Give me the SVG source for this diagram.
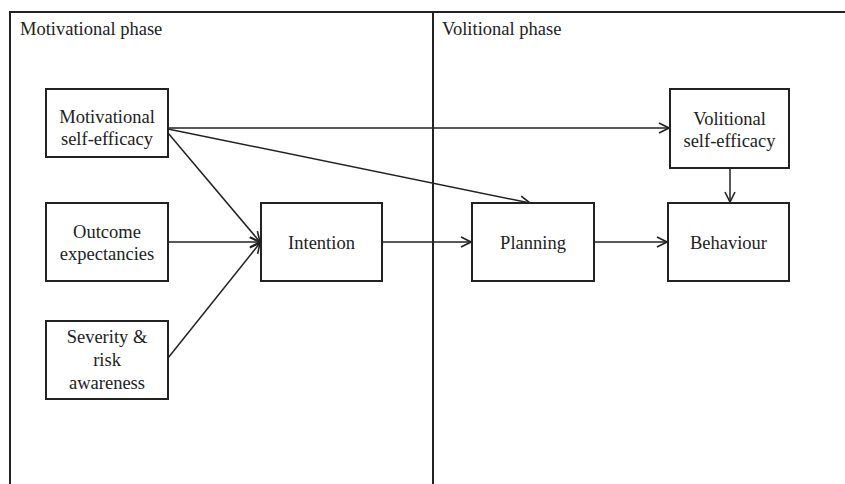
<svg xmlns="http://www.w3.org/2000/svg" width="845" height="484" viewBox="0 0 845 484">
<style>
.box{fill:#fff;stroke:#222;stroke-width:2}
.frame{fill:none;stroke:#222;stroke-width:2}
text{font-family:"Liberation Serif","Times New Roman","DejaVu Serif",serif;font-size:18.5px;fill:#222}
.c{text-anchor:middle}
.con line{stroke:#222;stroke-width:1.5;marker-end:url(#ah)}
</style>
<defs>
<marker id="ah" viewBox="0 0 12 12" refX="11" refY="6" markerWidth="12" markerHeight="12" markerUnits="userSpaceOnUse" orient="auto">
<path d="M1,1 L11,6 L1,11" fill="none" stroke="#222" stroke-width="1.6"/>
</marker>
</defs>
<g id="frame">
<path class="frame" d="M10,484 V12 H845"/>
<line x1="433" y1="12" x2="433" y2="484" stroke="#222" stroke-width="2"/>
<text x="20" y="35">Motivational phase</text>
<text x="442" y="35">Volitional phase</text>
</g>
<g class="con" id="connectors">
<line x1="168" y1="128" x2="669" y2="128"/>
<line x1="168" y1="129" x2="530" y2="203"/>
<line x1="168" y1="133" x2="260" y2="242"/>
<line x1="168" y1="242" x2="260" y2="242"/>
<line x1="168" y1="358" x2="260" y2="243"/>
<line x1="382" y1="242" x2="471" y2="242"/>
<line x1="594" y1="242" x2="667" y2="242"/>
<line x1="730" y1="168" x2="730" y2="202"/>
</g>
<g id="mse">
<rect class="box" x="46" y="89" width="122" height="68"/>
<text class="c" x="107" y="123">Motivational</text>
<text class="c" x="107" y="145">self-efficacy</text>
</g>
<g id="outcome">
<rect class="box" x="46" y="203" width="122" height="78"/>
<text class="c" x="107" y="238">Outcome</text>
<text class="c" x="107" y="260">expectancies</text>
</g>
<g id="severity">
<rect class="box" x="46" y="321" width="122" height="78"/>
<text class="c" x="107" y="343">Severity &amp;</text>
<text class="c" x="107" y="366">risk</text>
<text class="c" x="107" y="389">awareness</text>
</g>
<g id="intention">
<rect class="box" x="261" y="203" width="121" height="78"/>
<text class="c" x="321.5" y="249">Intention</text>
</g>
<g id="planning">
<rect class="box" x="472" y="203" width="122" height="78"/>
<text class="c" x="533" y="249">Planning</text>
</g>
<g id="behaviour">
<rect class="box" x="668" y="203" width="121" height="78"/>
<text class="c" x="728.5" y="249">Behaviour</text>
</g>
<g id="vse">
<rect class="box" x="670" y="89" width="119" height="79"/>
<text class="c" x="729.5" y="125">Volitional</text>
<text class="c" x="729.5" y="147">self-efficacy</text>
</g>
</svg>
